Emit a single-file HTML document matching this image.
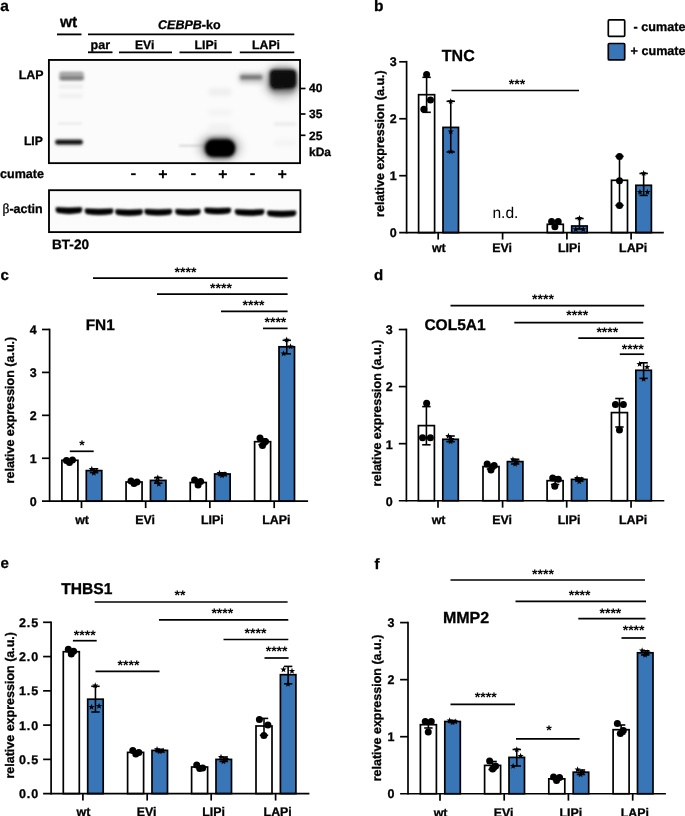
<!DOCTYPE html>
<html><head><meta charset="utf-8"><title>figure</title>
<style>html,body{margin:0;padding:0;background:#fff;}svg{display:block;font-family:"Liberation Sans",sans-serif;text-rendering:geometricPrecision;will-change:transform;transform:translateZ(0);}text{fill:#000;stroke:#000;stroke-width:0.3px;}text.n{stroke:none;}</style></head><body>
<svg width="685" height="816" viewBox="0 0 685 816">
<defs><filter id="b1" x="-30%" y="-100%" width="160%" height="300%"><feGaussianBlur stdDeviation="1.1"/></filter><filter id="b2" x="-30%" y="-100%" width="160%" height="300%"><feGaussianBlur stdDeviation="1.8"/></filter><filter id="b3" x="-30%" y="-100%" width="160%" height="300%"><feGaussianBlur stdDeviation="2.6"/></filter><filter id="b5" x="-50%" y="-50%" width="200%" height="200%"><feGaussianBlur stdDeviation="4.5"/></filter><filter id="b15" x="-30%" y="-100%" width="160%" height="300%"><feGaussianBlur stdDeviation="1.4"/></filter><filter id="b05" x="-30%" y="-100%" width="160%" height="300%"><feGaussianBlur stdDeviation="0.7"/></filter><clipPath id="cm"><rect x="48.9" y="59.95" width="251.1" height="103.05"/></clipPath><clipPath id="ca"><rect x="49" y="190.2" width="251.4" height="41.9"/></clipPath></defs>
<rect width="685" height="816" fill="#fff"/>
<text x="0.30" y="11.30" font-size="15.5" font-weight="bold" text-anchor="start" >a</text>
<text x="374.00" y="11.00" font-size="15.5" font-weight="bold" text-anchor="start" >b</text>
<text x="0.50" y="280.00" font-size="15" font-weight="bold" text-anchor="start" >c</text>
<text x="374.00" y="280.30" font-size="15" font-weight="bold" text-anchor="start" >d</text>
<text x="0.50" y="568.30" font-size="15" font-weight="bold" text-anchor="start" >e</text>
<text x="374.50" y="569.00" font-size="15" font-weight="bold" text-anchor="start" >f</text>
<text x="68.50" y="27.00" font-size="15.5" font-weight="bold" text-anchor="middle" >wt</text>
<line x1="57.00" y1="34.40" x2="81.50" y2="34.40" stroke="#000" stroke-width="1.85" />
<line x1="88.00" y1="34.40" x2="294.30" y2="34.40" stroke="#000" stroke-width="1.85" />
<text x="189.3" y="28.7" font-size="12.5" font-weight="bold" text-anchor="middle"><tspan font-style="italic">CEBPB</tspan>-ko</text>
<text x="100.30" y="48.80" font-size="12.5" font-weight="bold" text-anchor="middle" >par</text>
<line x1="88.00" y1="52.30" x2="112.50" y2="52.30" stroke="#000" stroke-width="1.85" />
<text x="144.70" y="48.70" font-size="12.2" font-weight="bold" text-anchor="middle" >EVi</text>
<line x1="119.00" y1="52.30" x2="172.00" y2="52.30" stroke="#000" stroke-width="1.85" />
<text x="205.80" y="48.60" font-size="12.3" font-weight="bold" text-anchor="middle" >LIPi</text>
<line x1="179.50" y1="52.30" x2="231.80" y2="52.30" stroke="#000" stroke-width="1.85" />
<text x="266.00" y="48.60" font-size="12.3" font-weight="bold" text-anchor="middle" >LAPi</text>
<line x1="239.80" y1="52.30" x2="294.30" y2="52.30" stroke="#000" stroke-width="1.85" />
<text x="43.60" y="78.80" font-size="12.4" font-weight="bold" text-anchor="end" >LAP</text>
<text x="42.90" y="145.40" font-size="12.2" font-weight="bold" text-anchor="end" >LIP</text>
<text x="0.00" y="178.00" font-size="12.55" font-weight="bold" text-anchor="start" >cumate</text>
<text x="2.5" y="213.0" font-size="12.5" font-weight="bold"><tspan font-weight="normal" font-family="Liberation Serif" font-size="13.5">β</tspan>-actin</text>
<text x="52.00" y="249.40" font-size="13.6" font-weight="bold" text-anchor="start" >BT-20</text>
<rect x="131.10" y="173.25" width="4.6" height="1.9" fill="#000"/>
<rect x="158.80" y="173.25" width="8.2" height="1.9" fill="#000"/>
<rect x="161.95" y="170.10" width="1.9" height="8.2" fill="#000"/>
<rect x="191.10" y="173.25" width="4.6" height="1.9" fill="#000"/>
<rect x="218.70" y="173.25" width="8.2" height="1.9" fill="#000"/>
<rect x="221.85" y="170.10" width="1.9" height="8.2" fill="#000"/>
<rect x="250.20" y="173.25" width="4.6" height="1.9" fill="#000"/>
<rect x="278.20" y="173.25" width="8.2" height="1.9" fill="#000"/>
<rect x="281.35" y="170.10" width="1.9" height="8.2" fill="#000"/>
<line x1="300.00" y1="88.50" x2="305.50" y2="88.50" stroke="#000" stroke-width="1.7" />
<line x1="300.00" y1="114.00" x2="305.50" y2="114.00" stroke="#000" stroke-width="1.7" />
<line x1="300.00" y1="135.30" x2="305.50" y2="135.30" stroke="#000" stroke-width="1.7" />
<text x="309.00" y="92.00" font-size="12" font-weight="bold" text-anchor="start" >40</text>
<text x="309.00" y="118.40" font-size="12" font-weight="bold" text-anchor="start" >35</text>
<text x="309.00" y="140.30" font-size="12" font-weight="bold" text-anchor="start" >25</text>
<text x="309.00" y="155.70" font-size="12" font-weight="bold" text-anchor="start" >kDa</text>
<rect x="48.9" y="59.95" width="251.1" height="103.05" fill="#fbfbfb"/>
<g clip-path="url(#cm)">
<rect x="59.5" y="72" width="24" height="8.5" rx="2" fill="#b0b0b0" filter="url(#b2)"/>
<rect x="60" y="76.4" width="23.5" height="3" rx="1" fill="#6e6e6e" filter="url(#b15)"/>
<rect x="60" y="72.8" width="23" height="2.2" rx="1" fill="#a0a0a0" filter="url(#b15)"/>
<rect x="59" y="84.5" width="24" height="4" fill="#ececec" filter="url(#b2)"/>
<rect x="59" y="93.5" width="24" height="5" fill="#f1f1f1" filter="url(#b2)"/>
<rect x="58" y="122.6" width="24" height="1.8" fill="#e6e6e6" filter="url(#b1)"/>
<rect x="55" y="139" width="28" height="6.5" rx="3" fill="#9a9a9a" filter="url(#b2)"/>
<rect x="55.5" y="140.3" width="27" height="3.6" rx="1.8" fill="#0c0c0c" filter="url(#b1)"/>
<rect x="179" y="144.8" width="26" height="1.8" fill="#d2d2d2" filter="url(#b1)"/>
<ellipse cx="219.7" cy="147.5" rx="22" ry="14" fill="#9a9a9a" opacity="0.55" filter="url(#b5)"/>
<rect x="203.5" y="137.5" width="32.5" height="21" rx="10" fill="#666" filter="url(#b3)"/>
<rect x="205.2" y="139.6" width="29.8" height="17.2" rx="8" fill="#050505" filter="url(#b2)"/>
<rect x="207" y="141.4" width="26.2" height="13.6" rx="6" fill="#050505" filter="url(#b1)"/>
<rect x="209" y="89" width="22" height="6" fill="#ebebeb" filter="url(#b3)"/>
<rect x="209" y="110" width="22" height="5" fill="#f2f2f2" filter="url(#b3)"/>
<rect x="209" y="124" width="22" height="8" fill="#f0f0f0" filter="url(#b3)"/>
<rect x="239" y="73" width="24.5" height="10" rx="3" fill="#c4c4c4" filter="url(#b3)"/>
<rect x="240" y="74.6" width="22.5" height="5.2" rx="2.4" fill="#9a9a9a" filter="url(#b2)"/>
<rect x="241" y="76.2" width="20.5" height="2.4" rx="1.2" fill="#707070" filter="url(#b1)"/>
<ellipse cx="282.5" cy="82" rx="19" ry="17" fill="#9a9a9a" opacity="0.55" filter="url(#b5)"/>
<rect x="268.5" y="68" width="28.5" height="25" rx="8" fill="#777" filter="url(#b3)"/>
<path d="M273,70 L292.5,70 Q296,70 296,74 L296,83 Q296,88 291,88.3 L276,89 Q270.2,89 270.2,83 L270.2,74 Q270.2,70 273,70 Z" fill="#080808" filter="url(#b2)"/>
<path d="M274,71.8 L291.5,71.8 Q294.3,71.8 294.3,75 L294.3,82.5 Q294.3,86.3 290.5,86.5 L276.5,87.2 Q272,87.2 272,82.5 L272,75 Q272,71.8 274,71.8 Z" fill="#080808" filter="url(#b1)"/>
<rect x="274" y="122.5" width="22" height="3" fill="#e8e8e8" filter="url(#b2)"/>
<rect x="274" y="140" width="22" height="6" fill="#f3f3f3" filter="url(#b3)"/>
</g>
<rect x="48.9" y="59.95" width="251.15" height="103.2" fill="none" stroke="#000" stroke-width="1.85"/>
<rect x="49" y="190.2" width="251.4" height="41.9" fill="#fbfbfb"/>
<g clip-path="url(#ca)">
<path d="M56.40,207.60 Q68.90,208.50 81.40,207.60 Q82.90,209.90 80.40,212.60 Q68.90,214.70 57.40,212.60 Q54.90,209.90 56.40,207.60 Z" fill="#6a6a6a" filter="url(#b2)"/>
<path d="M56.40,207.60 Q68.90,208.50 81.40,207.60 Q82.90,209.90 80.40,212.60 Q68.90,214.70 57.40,212.60 Q54.90,209.90 56.40,207.60 Z" fill="#050505" filter="url(#b1)"/>
<path d="M85.60,208.80 Q99.05,209.70 112.50,208.80 Q114.00,211.10 111.50,213.80 Q99.05,215.90 86.60,213.80 Q84.10,211.10 85.60,208.80 Z" fill="#6a6a6a" filter="url(#b2)"/>
<path d="M85.60,208.80 Q99.05,209.70 112.50,208.80 Q114.00,211.10 111.50,213.80 Q99.05,215.90 86.60,213.80 Q84.10,211.10 85.60,208.80 Z" fill="#050505" filter="url(#b1)"/>
<path d="M116.00,209.50 Q129.05,210.40 142.10,209.50 Q143.60,211.80 141.10,214.50 Q129.05,216.60 117.00,214.50 Q114.50,211.80 116.00,209.50 Z" fill="#6a6a6a" filter="url(#b2)"/>
<path d="M116.00,209.50 Q129.05,210.40 142.10,209.50 Q143.60,211.80 141.10,214.50 Q129.05,216.60 117.00,214.50 Q114.50,211.80 116.00,209.50 Z" fill="#050505" filter="url(#b1)"/>
<path d="M145.20,209.20 Q158.25,210.10 171.30,209.20 Q172.80,211.50 170.30,214.20 Q158.25,216.30 146.20,214.20 Q143.70,211.50 145.20,209.20 Z" fill="#6a6a6a" filter="url(#b2)"/>
<path d="M145.20,209.20 Q158.25,210.10 171.30,209.20 Q172.80,211.50 170.30,214.20 Q158.25,216.30 146.20,214.20 Q143.70,211.50 145.20,209.20 Z" fill="#050505" filter="url(#b1)"/>
<path d="M176.00,209.20 Q187.90,210.10 199.80,209.20 Q201.30,211.50 198.80,214.20 Q187.90,216.30 177.00,214.20 Q174.50,211.50 176.00,209.20 Z" fill="#6a6a6a" filter="url(#b2)"/>
<path d="M176.00,209.20 Q187.90,210.10 199.80,209.20 Q201.30,211.50 198.80,214.20 Q187.90,216.30 177.00,214.20 Q174.50,211.50 176.00,209.20 Z" fill="#050505" filter="url(#b1)"/>
<path d="M205.20,208.00 Q217.70,208.90 230.20,208.00 Q231.70,210.30 229.20,213.00 Q217.70,215.10 206.20,213.00 Q203.70,210.30 205.20,208.00 Z" fill="#6a6a6a" filter="url(#b2)"/>
<path d="M205.20,208.00 Q217.70,208.90 230.20,208.00 Q231.70,210.30 229.20,213.00 Q217.70,215.10 206.20,213.00 Q203.70,210.30 205.20,208.00 Z" fill="#050505" filter="url(#b1)"/>
<path d="M235.60,209.50 Q249.60,210.40 263.60,209.50 Q265.10,211.80 262.60,214.50 Q249.60,216.60 236.60,214.50 Q234.10,211.80 235.60,209.50 Z" fill="#6a6a6a" filter="url(#b2)"/>
<path d="M235.60,209.50 Q249.60,210.40 263.60,209.50 Q265.10,211.80 262.60,214.50 Q249.60,216.60 236.60,214.50 Q234.10,211.80 235.60,209.50 Z" fill="#050505" filter="url(#b1)"/>
<path d="M267.80,210.70 Q281.60,211.60 295.40,210.70 Q296.90,213.00 294.40,215.70 Q281.60,217.80 268.80,215.70 Q266.30,213.00 267.80,210.70 Z" fill="#6a6a6a" filter="url(#b2)"/>
<path d="M267.80,210.70 Q281.60,211.60 295.40,210.70 Q296.90,213.00 294.40,215.70 Q281.60,217.80 268.80,215.70 Q266.30,213.00 267.80,210.70 Z" fill="#050505" filter="url(#b1)"/>
</g>
<rect x="49" y="190.2" width="251.4" height="41.9" fill="none" stroke="#000" stroke-width="1.85"/>
<rect x="608.3" y="19.9" width="16.4" height="16.4" rx="1" fill="#fff" stroke="#000" stroke-width="1.7"/>
<rect x="608.3" y="43.5" width="16.4" height="16.4" rx="1" fill="#3876b8" stroke="#000" stroke-width="1.7"/>
<text x="633.60" y="30.80" font-size="12.6" font-weight="bold" text-anchor="start" >- cumate</text>
<text x="630.60" y="54.70" font-size="12.6" font-weight="bold" text-anchor="start" >+ cumate</text>
<rect x="418.60" y="94.70" width="16.00" height="137.95" fill="#fff" stroke="#000" stroke-width="1.7"/>
<rect x="443.00" y="127.40" width="15.50" height="105.25" fill="#3876b8" stroke="#000" stroke-width="1.7"/>
<rect x="547.30" y="224.30" width="16.00" height="8.35" fill="#fff" stroke="#000" stroke-width="1.7"/>
<rect x="571.70" y="226.00" width="15.50" height="6.65" fill="#3876b8" stroke="#000" stroke-width="1.7"/>
<rect x="611.50" y="180.30" width="16.00" height="52.35" fill="#fff" stroke="#000" stroke-width="1.7"/>
<rect x="635.90" y="185.30" width="15.50" height="47.35" fill="#3876b8" stroke="#000" stroke-width="1.7"/>
<line x1="406.60" y1="60.85" x2="406.60" y2="233.50" stroke="#000" stroke-width="1.7" />
<line x1="399.20" y1="232.65" x2="663.80" y2="232.65" stroke="#000" stroke-width="1.7" />
<text x="396.70" y="237.05" font-size="12.5" font-weight="bold" text-anchor="end" >0</text>
<line x1="399.20" y1="175.70" x2="406.60" y2="175.70" stroke="#000" stroke-width="1.7" />
<text x="396.70" y="180.10" font-size="12.5" font-weight="bold" text-anchor="end" >1</text>
<line x1="399.20" y1="118.75" x2="406.60" y2="118.75" stroke="#000" stroke-width="1.7" />
<text x="396.70" y="123.15" font-size="12.5" font-weight="bold" text-anchor="end" >2</text>
<line x1="399.20" y1="61.80" x2="406.60" y2="61.80" stroke="#000" stroke-width="1.7" />
<text x="396.70" y="66.20" font-size="12.5" font-weight="bold" text-anchor="end" >3</text>
<line x1="438.20" y1="232.65" x2="438.20" y2="239.55" stroke="#000" stroke-width="1.7" />
<text x="438.80" y="252.00" font-size="12.4" font-weight="bold" text-anchor="middle" >wt</text>
<line x1="502.60" y1="232.65" x2="502.60" y2="239.55" stroke="#000" stroke-width="1.7" />
<text x="502.00" y="252.00" font-size="12.4" font-weight="bold" text-anchor="middle" >EVi</text>
<line x1="566.90" y1="232.65" x2="566.90" y2="239.55" stroke="#000" stroke-width="1.7" />
<text x="569.30" y="252.00" font-size="12.4" font-weight="bold" text-anchor="middle" >LIPi</text>
<line x1="631.10" y1="232.65" x2="631.10" y2="239.55" stroke="#000" stroke-width="1.7" />
<text x="633.20" y="252.00" font-size="12.4" font-weight="bold" text-anchor="middle" >LAPi</text>
<text transform="translate(383.70,143.60) rotate(-90)" font-size="12.5" font-weight="bold" text-anchor="middle">relative expression (a.u.)</text>
<text x="441.80" y="61.00" font-size="16" font-weight="bold" text-anchor="start" >TNC</text>
<line x1="426.60" y1="77.30" x2="426.60" y2="112.30" stroke="#000" stroke-width="1.6" />
<line x1="422.40" y1="77.30" x2="430.80" y2="77.30" stroke="#000" stroke-width="1.6" />
<line x1="422.40" y1="112.30" x2="430.80" y2="112.30" stroke="#000" stroke-width="1.6" />
<circle cx="426.60" cy="74.40" r="3.5" fill="#000"/>
<circle cx="430.45" cy="100.00" r="3.5" fill="#000"/>
<circle cx="423.85" cy="109.30" r="3.5" fill="#000"/>
<line x1="450.75" y1="101.30" x2="450.75" y2="152.00" stroke="#000" stroke-width="1.6" />
<line x1="446.55" y1="101.30" x2="454.95" y2="101.30" stroke="#000" stroke-width="1.6" />
<line x1="446.55" y1="152.00" x2="454.95" y2="152.00" stroke="#000" stroke-width="1.6" />
<polygon points="450.70,98.00 451.51,100.18 453.84,100.28 452.02,101.73 452.64,103.97 450.70,102.69 448.76,103.97 449.38,101.73 447.56,100.28 449.89,100.18" fill="#000"/>
<polygon points="450.70,128.20 451.51,130.38 453.84,130.48 452.02,131.93 452.64,134.17 450.70,132.89 448.76,134.17 449.38,131.93 447.56,130.48 449.89,130.38" fill="#000"/>
<polygon points="450.70,148.20 451.51,150.38 453.84,150.48 452.02,151.93 452.64,154.17 450.70,152.89 448.76,154.17 449.38,151.93 447.56,150.48 449.89,150.38" fill="#000"/>
<circle cx="551.60" cy="221.50" r="3.5" fill="#000"/>
<circle cx="558.20" cy="221.50" r="3.5" fill="#000"/>
<circle cx="554.90" cy="226.80" r="3.5" fill="#000"/>
<line x1="579.45" y1="218.50" x2="579.45" y2="229.00" stroke="#000" stroke-width="1.6" />
<line x1="575.25" y1="218.50" x2="583.65" y2="218.50" stroke="#000" stroke-width="1.6" />
<line x1="575.25" y1="229.00" x2="583.65" y2="229.00" stroke="#000" stroke-width="1.6" />
<polygon points="579.45,214.90 580.26,217.08 582.59,217.18 580.77,218.63 581.39,220.87 579.45,219.59 577.51,220.87 578.13,218.63 576.31,217.18 578.64,217.08" fill="#000"/>
<polygon points="575.75,226.00 576.56,228.18 578.89,228.28 577.07,229.73 577.69,231.97 575.75,230.69 573.81,231.97 574.43,229.73 572.61,228.28 574.94,228.18" fill="#000"/>
<polygon points="583.25,226.00 584.06,228.18 586.39,228.28 584.57,229.73 585.19,231.97 583.25,230.69 581.31,231.97 581.93,229.73 580.11,228.28 582.44,228.18" fill="#000"/>
<line x1="619.50" y1="156.40" x2="619.50" y2="205.40" stroke="#000" stroke-width="1.6" />
<line x1="615.30" y1="156.40" x2="623.70" y2="156.40" stroke="#000" stroke-width="1.6" />
<line x1="615.30" y1="205.40" x2="623.70" y2="205.40" stroke="#000" stroke-width="1.6" />
<circle cx="619.50" cy="156.40" r="3.5" fill="#000"/>
<circle cx="619.50" cy="180.80" r="3.5" fill="#000"/>
<circle cx="619.50" cy="205.40" r="3.5" fill="#000"/>
<line x1="643.65" y1="173.50" x2="643.65" y2="195.40" stroke="#000" stroke-width="1.6" />
<line x1="639.45" y1="173.50" x2="647.85" y2="173.50" stroke="#000" stroke-width="1.6" />
<line x1="639.45" y1="195.40" x2="647.85" y2="195.40" stroke="#000" stroke-width="1.6" />
<polygon points="643.65,170.00 644.46,172.18 646.79,172.28 644.97,173.73 645.59,175.97 643.65,174.69 641.71,175.97 642.33,173.73 640.51,172.28 642.84,172.18" fill="#000"/>
<polygon points="639.95,188.70 640.76,190.88 643.09,190.98 641.27,192.43 641.89,194.67 639.95,193.39 638.01,194.67 638.63,192.43 636.81,190.98 639.14,190.88" fill="#000"/>
<polygon points="647.45,188.70 648.26,190.88 650.59,190.98 648.77,192.43 649.39,194.67 647.45,193.39 645.51,194.67 646.13,192.43 644.31,190.98 646.64,190.88" fill="#000"/>
<line x1="451.50" y1="90.50" x2="579.00" y2="90.50" stroke="#000" stroke-width="1.7" />
<text x="517.00" y="89.30" font-size="14" font-weight="bold" text-anchor="middle" class="n">***</text>
<text class="n" x="492.4" y="218.3" font-size="15.6" font-weight="normal">n.d.</text>
<rect x="61.90" y="460.30" width="16.00" height="40.90" fill="#fff" stroke="#000" stroke-width="1.7"/>
<rect x="86.30" y="470.60" width="15.50" height="30.60" fill="#3876b8" stroke="#000" stroke-width="1.7"/>
<rect x="126.06" y="482.00" width="16.00" height="19.20" fill="#fff" stroke="#000" stroke-width="1.7"/>
<rect x="150.46" y="480.40" width="15.50" height="20.80" fill="#3876b8" stroke="#000" stroke-width="1.7"/>
<rect x="190.24" y="482.50" width="16.00" height="18.70" fill="#fff" stroke="#000" stroke-width="1.7"/>
<rect x="214.64" y="474.00" width="15.50" height="27.20" fill="#3876b8" stroke="#000" stroke-width="1.7"/>
<rect x="254.60" y="441.70" width="16.00" height="59.50" fill="#fff" stroke="#000" stroke-width="1.7"/>
<rect x="279.00" y="346.80" width="15.50" height="154.40" fill="#3876b8" stroke="#000" stroke-width="1.7"/>
<line x1="49.60" y1="328.65" x2="49.60" y2="502.05" stroke="#000" stroke-width="1.7" />
<line x1="42.00" y1="501.20" x2="308.10" y2="501.20" stroke="#000" stroke-width="1.7" />
<text x="36.80" y="506.10" font-size="12.5" font-weight="bold" text-anchor="end" >0</text>
<line x1="42.00" y1="458.27" x2="49.60" y2="458.27" stroke="#000" stroke-width="1.7" />
<text x="36.80" y="463.17" font-size="12.5" font-weight="bold" text-anchor="end" >1</text>
<line x1="42.00" y1="415.34" x2="49.60" y2="415.34" stroke="#000" stroke-width="1.7" />
<text x="36.80" y="420.24" font-size="12.5" font-weight="bold" text-anchor="end" >2</text>
<line x1="42.00" y1="372.41" x2="49.60" y2="372.41" stroke="#000" stroke-width="1.7" />
<text x="36.80" y="377.31" font-size="12.5" font-weight="bold" text-anchor="end" >3</text>
<line x1="42.00" y1="329.48" x2="49.60" y2="329.48" stroke="#000" stroke-width="1.7" />
<text x="36.80" y="334.38" font-size="12.5" font-weight="bold" text-anchor="end" >4</text>
<line x1="81.50" y1="501.20" x2="81.50" y2="508.10" stroke="#000" stroke-width="1.7" />
<text x="82.10" y="524.00" font-size="12.4" font-weight="bold" text-anchor="middle" >wt</text>
<line x1="145.66" y1="501.20" x2="145.66" y2="508.10" stroke="#000" stroke-width="1.7" />
<text x="145.06" y="524.00" font-size="12.4" font-weight="bold" text-anchor="middle" >EVi</text>
<line x1="209.84" y1="501.20" x2="209.84" y2="508.10" stroke="#000" stroke-width="1.7" />
<text x="212.24" y="524.00" font-size="12.4" font-weight="bold" text-anchor="middle" >LIPi</text>
<line x1="274.20" y1="501.20" x2="274.20" y2="508.10" stroke="#000" stroke-width="1.7" />
<text x="276.30" y="524.00" font-size="12.4" font-weight="bold" text-anchor="middle" >LAPi</text>
<text transform="translate(13.80,410.10) rotate(-90)" font-size="12.5" font-weight="bold" text-anchor="middle">relative expression (a.u.)</text>
<text x="85.70" y="330.00" font-size="15.4" font-weight="bold" text-anchor="start" >FN1</text>
<circle cx="66.45" cy="460.50" r="3.5" fill="#000"/>
<circle cx="72.45" cy="460.00" r="3.5" fill="#000"/>
<circle cx="69.45" cy="462.50" r="3.5" fill="#000"/>
<line x1="94.05" y1="468.80" x2="94.05" y2="472.60" stroke="#000" stroke-width="1.6" />
<line x1="89.85" y1="468.80" x2="98.25" y2="468.80" stroke="#000" stroke-width="1.6" />
<line x1="89.85" y1="472.60" x2="98.25" y2="472.60" stroke="#000" stroke-width="1.6" />
<polygon points="91.80,465.70 92.61,467.88 94.94,467.98 93.12,469.43 93.74,471.67 91.80,470.39 89.86,471.67 90.48,469.43 88.66,467.98 90.99,467.88" fill="#000"/>
<polygon points="96.30,467.70 97.11,469.88 99.44,469.98 97.62,471.43 98.24,473.67 96.30,472.39 94.36,473.67 94.98,471.43 93.16,469.98 95.49,469.88" fill="#000"/>
<polygon points="93.80,469.70 94.61,471.88 96.94,471.98 95.12,473.43 95.74,475.67 93.80,474.39 91.86,475.67 92.48,473.43 90.66,471.98 92.99,471.88" fill="#000"/>
<circle cx="131.01" cy="481.00" r="3.5" fill="#000"/>
<circle cx="137.01" cy="482.00" r="3.5" fill="#000"/>
<circle cx="134.01" cy="483.50" r="3.5" fill="#000"/>
<line x1="158.21" y1="477.70" x2="158.21" y2="483.20" stroke="#000" stroke-width="1.6" />
<line x1="154.01" y1="477.70" x2="162.41" y2="477.70" stroke="#000" stroke-width="1.6" />
<line x1="154.01" y1="483.20" x2="162.41" y2="483.20" stroke="#000" stroke-width="1.6" />
<polygon points="157.81,474.40 158.62,476.58 160.95,476.68 159.13,478.13 159.75,480.37 157.81,479.09 155.87,480.37 156.49,478.13 154.67,476.68 157.00,476.58" fill="#000"/>
<polygon points="156.31,477.70 157.12,479.88 159.45,479.98 157.63,481.43 158.25,483.67 156.31,482.39 154.37,483.67 154.99,481.43 153.17,479.98 155.50,479.88" fill="#000"/>
<polygon points="158.81,480.70 159.62,482.88 161.95,482.98 160.13,484.43 160.75,486.67 158.81,485.39 156.87,486.67 157.49,484.43 155.67,482.98 158.00,482.88" fill="#000"/>
<circle cx="194.59" cy="480.00" r="3.5" fill="#000"/>
<circle cx="200.59" cy="481.50" r="3.5" fill="#000"/>
<circle cx="198.09" cy="485.00" r="3.5" fill="#000"/>
<line x1="222.39" y1="472.80" x2="222.39" y2="475.50" stroke="#000" stroke-width="1.6" />
<line x1="218.19" y1="472.80" x2="226.59" y2="472.80" stroke="#000" stroke-width="1.6" />
<line x1="218.19" y1="475.50" x2="226.59" y2="475.50" stroke="#000" stroke-width="1.6" />
<polygon points="219.49,469.70 220.30,471.88 222.63,471.98 220.81,473.43 221.43,475.67 219.49,474.39 217.55,475.67 218.17,473.43 216.35,471.98 218.68,471.88" fill="#000"/>
<polygon points="224.99,471.00 225.80,473.18 228.13,473.28 226.31,474.73 226.93,476.97 224.99,475.69 223.05,476.97 223.67,474.73 221.85,473.28 224.18,473.18" fill="#000"/>
<polygon points="221.99,472.20 222.80,474.38 225.13,474.48 223.31,475.93 223.93,478.17 221.99,476.89 220.05,478.17 220.67,475.93 218.85,474.48 221.18,474.38" fill="#000"/>
<line x1="262.60" y1="438.80" x2="262.60" y2="444.70" stroke="#000" stroke-width="1.6" />
<line x1="258.40" y1="438.80" x2="266.80" y2="438.80" stroke="#000" stroke-width="1.6" />
<line x1="258.40" y1="444.70" x2="266.80" y2="444.70" stroke="#000" stroke-width="1.6" />
<circle cx="260.00" cy="438.00" r="3.5" fill="#000"/>
<circle cx="265.50" cy="441.50" r="3.5" fill="#000"/>
<circle cx="262.50" cy="445.50" r="3.5" fill="#000"/>
<line x1="286.75" y1="340.30" x2="286.75" y2="353.80" stroke="#000" stroke-width="1.6" />
<line x1="282.55" y1="340.30" x2="290.95" y2="340.30" stroke="#000" stroke-width="1.6" />
<line x1="282.55" y1="353.80" x2="290.95" y2="353.80" stroke="#000" stroke-width="1.6" />
<polygon points="286.70,336.50 287.51,338.68 289.84,338.78 288.02,340.23 288.64,342.47 286.70,341.19 284.76,342.47 285.38,340.23 283.56,338.78 285.89,338.68" fill="#000"/>
<polygon points="290.60,343.20 291.41,345.38 293.74,345.48 291.92,346.93 292.54,349.17 290.60,347.89 288.66,349.17 289.28,346.93 287.46,345.48 289.79,345.38" fill="#000"/>
<polygon points="283.60,350.20 284.41,352.38 286.74,352.48 284.92,353.93 285.54,356.17 283.60,354.89 281.66,356.17 282.28,353.93 280.46,352.48 282.79,352.38" fill="#000"/>
<line x1="93.00" y1="278.10" x2="287.60" y2="278.10" stroke="#000" stroke-width="1.7" />
<text x="185.50" y="276.90" font-size="14" font-weight="bold" text-anchor="middle" class="n">****</text>
<line x1="157.00" y1="294.20" x2="287.60" y2="294.20" stroke="#000" stroke-width="1.7" />
<text x="221.00" y="293.00" font-size="14" font-weight="bold" text-anchor="middle" class="n">****</text>
<line x1="221.00" y1="311.30" x2="287.60" y2="311.30" stroke="#000" stroke-width="1.7" />
<text x="253.50" y="310.10" font-size="14" font-weight="bold" text-anchor="middle" class="n">****</text>
<line x1="263.00" y1="328.40" x2="287.60" y2="328.40" stroke="#000" stroke-width="1.7" />
<text x="275.40" y="327.20" font-size="14" font-weight="bold" text-anchor="middle" class="n">****</text>
<line x1="69.80" y1="451.30" x2="93.70" y2="451.30" stroke="#000" stroke-width="1.7" />
<text x="82.00" y="450.10" font-size="14" font-weight="bold" text-anchor="middle" class="n">*</text>
<rect x="418.40" y="425.60" width="16.00" height="75.15" fill="#fff" stroke="#000" stroke-width="1.7"/>
<rect x="442.80" y="439.30" width="15.50" height="61.45" fill="#3876b8" stroke="#000" stroke-width="1.7"/>
<rect x="483.00" y="466.60" width="16.00" height="34.15" fill="#fff" stroke="#000" stroke-width="1.7"/>
<rect x="507.40" y="461.60" width="15.50" height="39.15" fill="#3876b8" stroke="#000" stroke-width="1.7"/>
<rect x="547.10" y="480.70" width="16.00" height="20.05" fill="#fff" stroke="#000" stroke-width="1.7"/>
<rect x="571.50" y="479.40" width="15.50" height="21.35" fill="#3876b8" stroke="#000" stroke-width="1.7"/>
<rect x="611.45" y="412.60" width="16.00" height="88.15" fill="#fff" stroke="#000" stroke-width="1.7"/>
<rect x="635.85" y="370.30" width="15.50" height="130.45" fill="#3876b8" stroke="#000" stroke-width="1.7"/>
<line x1="406.40" y1="328.65" x2="406.40" y2="501.60" stroke="#000" stroke-width="1.7" />
<line x1="398.80" y1="500.75" x2="664.30" y2="500.75" stroke="#000" stroke-width="1.7" />
<text x="392.80" y="505.65" font-size="12.5" font-weight="bold" text-anchor="end" >0</text>
<line x1="398.80" y1="443.67" x2="406.40" y2="443.67" stroke="#000" stroke-width="1.7" />
<text x="392.80" y="448.57" font-size="12.5" font-weight="bold" text-anchor="end" >1</text>
<line x1="398.80" y1="386.59" x2="406.40" y2="386.59" stroke="#000" stroke-width="1.7" />
<text x="392.80" y="391.49" font-size="12.5" font-weight="bold" text-anchor="end" >2</text>
<line x1="398.80" y1="329.51" x2="406.40" y2="329.51" stroke="#000" stroke-width="1.7" />
<text x="392.80" y="334.41" font-size="12.5" font-weight="bold" text-anchor="end" >3</text>
<line x1="438.00" y1="500.75" x2="438.00" y2="507.65" stroke="#000" stroke-width="1.7" />
<text x="438.60" y="523.50" font-size="12.4" font-weight="bold" text-anchor="middle" >wt</text>
<line x1="502.60" y1="500.75" x2="502.60" y2="507.65" stroke="#000" stroke-width="1.7" />
<text x="502.00" y="523.50" font-size="12.4" font-weight="bold" text-anchor="middle" >EVi</text>
<line x1="566.70" y1="500.75" x2="566.70" y2="507.65" stroke="#000" stroke-width="1.7" />
<text x="569.10" y="523.50" font-size="12.4" font-weight="bold" text-anchor="middle" >LIPi</text>
<line x1="631.05" y1="500.75" x2="631.05" y2="507.65" stroke="#000" stroke-width="1.7" />
<text x="633.15" y="523.50" font-size="12.4" font-weight="bold" text-anchor="middle" >LAPi</text>
<text transform="translate(381.20,413.10) rotate(-90)" font-size="12.5" font-weight="bold" text-anchor="middle">relative expression (a.u.)</text>
<text x="424.40" y="330.00" font-size="15.55" font-weight="bold" text-anchor="start" >COL5A1</text>
<line x1="426.40" y1="406.60" x2="426.40" y2="444.80" stroke="#000" stroke-width="1.6" />
<line x1="422.20" y1="406.60" x2="430.60" y2="406.60" stroke="#000" stroke-width="1.6" />
<line x1="422.20" y1="444.80" x2="430.60" y2="444.80" stroke="#000" stroke-width="1.6" />
<circle cx="426.65" cy="403.30" r="3.5" fill="#000"/>
<circle cx="422.55" cy="437.70" r="3.5" fill="#000"/>
<circle cx="430.35" cy="437.70" r="3.5" fill="#000"/>
<line x1="450.55" y1="436.00" x2="450.55" y2="441.70" stroke="#000" stroke-width="1.6" />
<line x1="446.35" y1="436.00" x2="454.75" y2="436.00" stroke="#000" stroke-width="1.6" />
<line x1="446.35" y1="441.70" x2="454.75" y2="441.70" stroke="#000" stroke-width="1.6" />
<polygon points="448.45,432.70 449.26,434.88 451.59,434.98 449.77,436.43 450.39,438.67 448.45,437.39 446.51,438.67 447.13,436.43 445.31,434.98 447.64,434.88" fill="#000"/>
<polygon points="451.45,435.70 452.26,437.88 454.59,437.98 452.77,439.43 453.39,441.67 451.45,440.39 449.51,441.67 450.13,439.43 448.31,437.98 450.64,437.88" fill="#000"/>
<polygon points="450.55,438.20 451.36,440.38 453.69,440.48 451.87,441.93 452.49,444.17 450.55,442.89 448.61,444.17 449.23,441.93 447.41,440.48 449.74,440.38" fill="#000"/>
<line x1="491.00" y1="464.50" x2="491.00" y2="469.00" stroke="#000" stroke-width="1.6" />
<line x1="486.80" y1="464.50" x2="495.20" y2="464.50" stroke="#000" stroke-width="1.6" />
<line x1="486.80" y1="469.00" x2="495.20" y2="469.00" stroke="#000" stroke-width="1.6" />
<circle cx="487.15" cy="464.00" r="3.5" fill="#000"/>
<circle cx="494.15" cy="465.50" r="3.5" fill="#000"/>
<circle cx="490.95" cy="470.00" r="3.5" fill="#000"/>
<line x1="515.15" y1="459.30" x2="515.15" y2="464.00" stroke="#000" stroke-width="1.6" />
<line x1="510.95" y1="459.30" x2="519.35" y2="459.30" stroke="#000" stroke-width="1.6" />
<line x1="510.95" y1="464.00" x2="519.35" y2="464.00" stroke="#000" stroke-width="1.6" />
<polygon points="512.95,456.20 513.76,458.38 516.09,458.48 514.27,459.93 514.89,462.17 512.95,460.89 511.01,462.17 511.63,459.93 509.81,458.48 512.14,458.38" fill="#000"/>
<polygon points="516.95,458.20 517.76,460.38 520.09,460.48 518.27,461.93 518.89,464.17 516.95,462.89 515.01,464.17 515.63,461.93 513.81,460.48 516.14,460.38" fill="#000"/>
<polygon points="515.15,460.70 515.96,462.88 518.29,462.98 516.47,464.43 517.09,466.67 515.15,465.39 513.21,466.67 513.83,464.43 512.01,462.98 514.34,462.88" fill="#000"/>
<line x1="555.10" y1="477.00" x2="555.10" y2="484.50" stroke="#000" stroke-width="1.6" />
<line x1="550.90" y1="477.00" x2="559.30" y2="477.00" stroke="#000" stroke-width="1.6" />
<line x1="550.90" y1="484.50" x2="559.30" y2="484.50" stroke="#000" stroke-width="1.6" />
<circle cx="552.70" cy="477.90" r="3.5" fill="#000"/>
<circle cx="558.30" cy="479.20" r="3.5" fill="#000"/>
<circle cx="554.80" cy="486.30" r="3.5" fill="#000"/>
<line x1="579.25" y1="478.00" x2="579.25" y2="481.00" stroke="#000" stroke-width="1.6" />
<line x1="575.05" y1="478.00" x2="583.45" y2="478.00" stroke="#000" stroke-width="1.6" />
<line x1="575.05" y1="481.00" x2="583.45" y2="481.00" stroke="#000" stroke-width="1.6" />
<polygon points="577.05,474.70 577.86,476.88 580.19,476.98 578.37,478.43 578.99,480.67 577.05,479.39 575.11,480.67 575.73,478.43 573.91,476.98 576.24,476.88" fill="#000"/>
<polygon points="581.55,476.20 582.36,478.38 584.69,478.48 582.87,479.93 583.49,482.17 581.55,480.89 579.61,482.17 580.23,479.93 578.41,478.48 580.74,478.38" fill="#000"/>
<polygon points="579.25,478.20 580.06,480.38 582.39,480.48 580.57,481.93 581.19,484.17 579.25,482.89 577.31,484.17 577.93,481.93 576.11,480.48 578.44,480.38" fill="#000"/>
<line x1="619.45" y1="398.50" x2="619.45" y2="427.00" stroke="#000" stroke-width="1.6" />
<line x1="615.25" y1="398.50" x2="623.65" y2="398.50" stroke="#000" stroke-width="1.6" />
<line x1="615.25" y1="427.00" x2="623.65" y2="427.00" stroke="#000" stroke-width="1.6" />
<circle cx="615.45" cy="404.60" r="3.5" fill="#000"/>
<circle cx="623.35" cy="404.60" r="3.5" fill="#000"/>
<circle cx="619.45" cy="429.90" r="3.5" fill="#000"/>
<line x1="643.60" y1="362.80" x2="643.60" y2="378.40" stroke="#000" stroke-width="1.6" />
<line x1="639.40" y1="362.80" x2="647.80" y2="362.80" stroke="#000" stroke-width="1.6" />
<line x1="639.40" y1="378.40" x2="647.80" y2="378.40" stroke="#000" stroke-width="1.6" />
<polygon points="639.60,360.70 640.41,362.88 642.74,362.98 640.92,364.43 641.54,366.67 639.60,365.39 637.66,366.67 638.28,364.43 636.46,362.98 638.79,362.88" fill="#000"/>
<polygon points="647.10,363.70 647.91,365.88 650.24,365.98 648.42,367.43 649.04,369.67 647.10,368.39 645.16,369.67 645.78,367.43 643.96,365.98 646.29,365.88" fill="#000"/>
<polygon points="643.60,375.70 644.41,377.88 646.74,377.98 644.92,379.43 645.54,381.67 643.60,380.39 641.66,381.67 642.28,379.43 640.46,377.98 642.79,377.88" fill="#000"/>
<line x1="450.50" y1="305.70" x2="644.20" y2="305.70" stroke="#000" stroke-width="1.7" />
<text x="543.00" y="303.80" font-size="14" font-weight="bold" text-anchor="middle" class="n">****</text>
<line x1="514.30" y1="322.60" x2="643.30" y2="322.60" stroke="#000" stroke-width="1.7" />
<text x="577.20" y="320.00" font-size="14" font-weight="bold" text-anchor="middle" class="n">****</text>
<line x1="578.30" y1="338.20" x2="644.20" y2="338.20" stroke="#000" stroke-width="1.7" />
<text x="607.30" y="337.00" font-size="14" font-weight="bold" text-anchor="middle" class="n">****</text>
<line x1="619.80" y1="354.20" x2="644.20" y2="354.20" stroke="#000" stroke-width="1.7" />
<text x="632.70" y="353.80" font-size="14" font-weight="bold" text-anchor="middle" class="n">****</text>
<rect x="63.30" y="651.70" width="16.00" height="141.95" fill="#fff" stroke="#000" stroke-width="1.7"/>
<rect x="87.70" y="699.20" width="15.50" height="94.45" fill="#3876b8" stroke="#000" stroke-width="1.7"/>
<rect x="127.60" y="752.40" width="16.00" height="41.25" fill="#fff" stroke="#000" stroke-width="1.7"/>
<rect x="152.00" y="750.40" width="15.50" height="43.25" fill="#3876b8" stroke="#000" stroke-width="1.7"/>
<rect x="191.60" y="767.00" width="16.00" height="26.65" fill="#fff" stroke="#000" stroke-width="1.7"/>
<rect x="216.00" y="759.40" width="15.50" height="34.25" fill="#3876b8" stroke="#000" stroke-width="1.7"/>
<rect x="256.00" y="726.00" width="16.00" height="67.65" fill="#fff" stroke="#000" stroke-width="1.7"/>
<rect x="280.40" y="674.70" width="15.50" height="118.95" fill="#3876b8" stroke="#000" stroke-width="1.7"/>
<line x1="51.10" y1="621.45" x2="51.10" y2="794.50" stroke="#000" stroke-width="1.7" />
<line x1="43.10" y1="793.65" x2="309.40" y2="793.65" stroke="#000" stroke-width="1.7" />
<text x="39.10" y="798.15" font-size="12.5" font-weight="bold" text-anchor="end" letter-spacing="0.9">0.0</text>
<line x1="43.10" y1="759.38" x2="51.10" y2="759.38" stroke="#000" stroke-width="1.7" />
<text x="39.10" y="763.88" font-size="12.5" font-weight="bold" text-anchor="end" letter-spacing="0.9">0.5</text>
<line x1="43.10" y1="725.11" x2="51.10" y2="725.11" stroke="#000" stroke-width="1.7" />
<text x="39.10" y="729.61" font-size="12.5" font-weight="bold" text-anchor="end" letter-spacing="0.9">1.0</text>
<line x1="43.10" y1="690.84" x2="51.10" y2="690.84" stroke="#000" stroke-width="1.7" />
<text x="39.10" y="695.34" font-size="12.5" font-weight="bold" text-anchor="end" letter-spacing="0.9">1.5</text>
<line x1="43.10" y1="656.57" x2="51.10" y2="656.57" stroke="#000" stroke-width="1.7" />
<text x="39.10" y="661.07" font-size="12.5" font-weight="bold" text-anchor="end" letter-spacing="0.9">2.0</text>
<line x1="43.10" y1="622.30" x2="51.10" y2="622.30" stroke="#000" stroke-width="1.7" />
<text x="39.10" y="626.80" font-size="12.5" font-weight="bold" text-anchor="end" letter-spacing="0.9">2.5</text>
<line x1="82.90" y1="793.65" x2="82.90" y2="800.55" stroke="#000" stroke-width="1.7" />
<text x="83.50" y="816.30" font-size="12.4" font-weight="bold" text-anchor="middle" >wt</text>
<line x1="147.20" y1="793.65" x2="147.20" y2="800.55" stroke="#000" stroke-width="1.7" />
<text x="146.60" y="816.30" font-size="12.4" font-weight="bold" text-anchor="middle" >EVi</text>
<line x1="211.20" y1="793.65" x2="211.20" y2="800.55" stroke="#000" stroke-width="1.7" />
<text x="213.60" y="816.30" font-size="12.4" font-weight="bold" text-anchor="middle" >LIPi</text>
<line x1="275.60" y1="793.65" x2="275.60" y2="800.55" stroke="#000" stroke-width="1.7" />
<text x="277.70" y="816.30" font-size="12.4" font-weight="bold" text-anchor="middle" >LAPi</text>
<text transform="translate(13.80,705.30) rotate(-90)" font-size="12.5" font-weight="bold" text-anchor="middle">relative expression (a.u.)</text>
<text x="61.30" y="593.50" font-size="15.6" font-weight="bold" text-anchor="start" >THBS1</text>
<circle cx="68.30" cy="649.30" r="3.5" fill="#000"/>
<circle cx="73.60" cy="651.30" r="3.5" fill="#000"/>
<circle cx="71.30" cy="653.90" r="3.5" fill="#000"/>
<line x1="95.45" y1="686.30" x2="95.45" y2="712.00" stroke="#000" stroke-width="1.6" />
<line x1="91.25" y1="686.30" x2="99.65" y2="686.30" stroke="#000" stroke-width="1.6" />
<line x1="91.25" y1="712.00" x2="99.65" y2="712.00" stroke="#000" stroke-width="1.6" />
<polygon points="95.25,682.30 96.06,684.48 98.39,684.58 96.57,686.03 97.19,688.27 95.25,686.99 93.31,688.27 93.93,686.03 92.11,684.58 94.44,684.48" fill="#000"/>
<polygon points="91.55,703.70 92.36,705.88 94.69,705.98 92.87,707.43 93.49,709.67 91.55,708.39 89.61,709.67 90.23,707.43 88.41,705.98 90.74,705.88" fill="#000"/>
<polygon points="99.05,702.70 99.86,704.88 102.19,704.98 100.37,706.43 100.99,708.67 99.05,707.39 97.11,708.67 97.73,706.43 95.91,704.98 98.24,704.88" fill="#000"/>
<circle cx="132.80" cy="750.50" r="3.5" fill="#000"/>
<circle cx="138.80" cy="752.50" r="3.5" fill="#000"/>
<circle cx="135.80" cy="754.00" r="3.5" fill="#000"/>
<line x1="159.75" y1="749.30" x2="159.75" y2="751.80" stroke="#000" stroke-width="1.6" />
<line x1="155.55" y1="749.30" x2="163.95" y2="749.30" stroke="#000" stroke-width="1.6" />
<line x1="155.55" y1="751.80" x2="163.95" y2="751.80" stroke="#000" stroke-width="1.6" />
<polygon points="157.05,746.00 157.86,748.18 160.19,748.28 158.37,749.73 158.99,751.97 157.05,750.69 155.11,751.97 155.73,749.73 153.91,748.28 156.24,748.18" fill="#000"/>
<polygon points="163.05,747.50 163.86,749.68 166.19,749.78 164.37,751.23 164.99,753.47 163.05,752.19 161.11,753.47 161.73,751.23 159.91,749.78 162.24,749.68" fill="#000"/>
<polygon points="159.75,748.20 160.56,750.38 162.89,750.48 161.07,751.93 161.69,754.17 159.75,752.89 157.81,754.17 158.43,751.93 156.61,750.48 158.94,750.38" fill="#000"/>
<circle cx="196.70" cy="765.00" r="3.5" fill="#000"/>
<circle cx="202.70" cy="768.00" r="3.5" fill="#000"/>
<circle cx="199.70" cy="768.50" r="3.5" fill="#000"/>
<line x1="223.75" y1="757.00" x2="223.75" y2="761.50" stroke="#000" stroke-width="1.6" />
<line x1="219.55" y1="757.00" x2="227.95" y2="757.00" stroke="#000" stroke-width="1.6" />
<line x1="219.55" y1="761.50" x2="227.95" y2="761.50" stroke="#000" stroke-width="1.6" />
<polygon points="221.00,753.70 221.81,755.88 224.14,755.98 222.32,757.43 222.94,759.67 221.00,758.39 219.06,759.67 219.68,757.43 217.86,755.98 220.19,755.88" fill="#000"/>
<polygon points="226.00,755.70 226.81,757.88 229.14,757.98 227.32,759.43 227.94,761.67 226.00,760.39 224.06,761.67 224.68,759.43 222.86,757.98 225.19,757.88" fill="#000"/>
<polygon points="223.50,758.20 224.31,760.38 226.64,760.48 224.82,761.93 225.44,764.17 223.50,762.89 221.56,764.17 222.18,761.93 220.36,760.48 222.69,760.38" fill="#000"/>
<line x1="264.00" y1="718.40" x2="264.00" y2="735.30" stroke="#000" stroke-width="1.6" />
<line x1="259.80" y1="718.40" x2="268.20" y2="718.40" stroke="#000" stroke-width="1.6" />
<line x1="259.80" y1="735.30" x2="268.20" y2="735.30" stroke="#000" stroke-width="1.6" />
<circle cx="259.40" cy="719.50" r="3.5" fill="#000"/>
<circle cx="267.90" cy="725.00" r="3.5" fill="#000"/>
<circle cx="263.90" cy="735.50" r="3.5" fill="#000"/>
<line x1="288.15" y1="666.40" x2="288.15" y2="683.80" stroke="#000" stroke-width="1.6" />
<line x1="283.95" y1="666.40" x2="292.35" y2="666.40" stroke="#000" stroke-width="1.6" />
<line x1="283.95" y1="683.80" x2="292.35" y2="683.80" stroke="#000" stroke-width="1.6" />
<polygon points="283.50,666.20 284.31,668.38 286.64,668.48 284.82,669.93 285.44,672.17 283.50,670.89 281.56,672.17 282.18,669.93 280.36,668.48 282.69,668.38" fill="#000"/>
<polygon points="292.00,667.70 292.81,669.88 295.14,669.98 293.32,671.43 293.94,673.67 292.00,672.39 290.06,673.67 290.68,671.43 288.86,669.98 291.19,669.88" fill="#000"/>
<polygon points="288.00,680.70 288.81,682.88 291.14,682.98 289.32,684.43 289.94,686.67 288.00,685.39 286.06,686.67 286.68,684.43 284.86,682.98 287.19,682.88" fill="#000"/>
<line x1="94.70" y1="602.00" x2="287.60" y2="602.00" stroke="#000" stroke-width="1.7" />
<text x="180.00" y="600.30" font-size="14" font-weight="bold" text-anchor="middle" class="n">**</text>
<line x1="159.00" y1="619.90" x2="288.30" y2="619.90" stroke="#000" stroke-width="1.7" />
<text x="222.30" y="618.20" font-size="14" font-weight="bold" text-anchor="middle" class="n">****</text>
<line x1="223.50" y1="639.50" x2="288.30" y2="639.50" stroke="#000" stroke-width="1.7" />
<text x="255.50" y="637.80" font-size="14" font-weight="bold" text-anchor="middle" class="n">****</text>
<line x1="264.50" y1="658.00" x2="288.60" y2="658.00" stroke="#000" stroke-width="1.7" />
<text x="276.60" y="656.30" font-size="14" font-weight="bold" text-anchor="middle" class="n">****</text>
<line x1="72.90" y1="640.70" x2="96.70" y2="640.70" stroke="#000" stroke-width="1.7" />
<text x="84.70" y="639.70" font-size="14" font-weight="bold" text-anchor="middle" class="n">****</text>
<line x1="95.50" y1="671.40" x2="159.50" y2="671.40" stroke="#000" stroke-width="1.7" />
<text x="128.50" y="669.70" font-size="14" font-weight="bold" text-anchor="middle" class="n">****</text>
<rect x="420.40" y="724.70" width="16.00" height="69.05" fill="#fff" stroke="#000" stroke-width="1.7"/>
<rect x="444.80" y="721.50" width="15.50" height="72.25" fill="#3876b8" stroke="#000" stroke-width="1.7"/>
<rect x="484.60" y="765.40" width="16.00" height="28.35" fill="#fff" stroke="#000" stroke-width="1.7"/>
<rect x="509.00" y="757.40" width="15.50" height="36.35" fill="#3876b8" stroke="#000" stroke-width="1.7"/>
<rect x="548.80" y="778.85" width="16.00" height="14.90" fill="#fff" stroke="#000" stroke-width="1.7"/>
<rect x="573.20" y="772.20" width="15.50" height="21.55" fill="#3876b8" stroke="#000" stroke-width="1.7"/>
<rect x="613.10" y="729.70" width="16.00" height="64.05" fill="#fff" stroke="#000" stroke-width="1.7"/>
<rect x="637.50" y="652.80" width="15.50" height="140.95" fill="#3876b8" stroke="#000" stroke-width="1.7"/>
<line x1="408.00" y1="621.75" x2="408.00" y2="794.60" stroke="#000" stroke-width="1.7" />
<line x1="400.10" y1="793.75" x2="665.90" y2="793.75" stroke="#000" stroke-width="1.7" />
<text x="394.50" y="797.65" font-size="12.5" font-weight="bold" text-anchor="end" >0</text>
<line x1="400.10" y1="736.70" x2="408.00" y2="736.70" stroke="#000" stroke-width="1.7" />
<text x="394.50" y="740.60" font-size="12.5" font-weight="bold" text-anchor="end" >1</text>
<line x1="400.10" y1="679.65" x2="408.00" y2="679.65" stroke="#000" stroke-width="1.7" />
<text x="394.50" y="683.55" font-size="12.5" font-weight="bold" text-anchor="end" >2</text>
<line x1="400.10" y1="622.60" x2="408.00" y2="622.60" stroke="#000" stroke-width="1.7" />
<text x="394.50" y="626.50" font-size="12.5" font-weight="bold" text-anchor="end" >3</text>
<line x1="440.00" y1="793.75" x2="440.00" y2="800.65" stroke="#000" stroke-width="1.7" />
<text x="440.60" y="816.80" font-size="12.4" font-weight="bold" text-anchor="middle" >wt</text>
<line x1="504.20" y1="793.75" x2="504.20" y2="800.65" stroke="#000" stroke-width="1.7" />
<text x="503.60" y="816.80" font-size="12.4" font-weight="bold" text-anchor="middle" >EVi</text>
<line x1="568.40" y1="793.75" x2="568.40" y2="800.65" stroke="#000" stroke-width="1.7" />
<text x="570.80" y="816.80" font-size="12.4" font-weight="bold" text-anchor="middle" >LIPi</text>
<line x1="632.70" y1="793.75" x2="632.70" y2="800.65" stroke="#000" stroke-width="1.7" />
<text x="634.80" y="816.80" font-size="12.4" font-weight="bold" text-anchor="middle" >LAPi</text>
<text transform="translate(381.40,708.00) rotate(-90)" font-size="12.5" font-weight="bold" text-anchor="middle">relative expression (a.u.)</text>
<text x="442.90" y="622.90" font-size="16" font-weight="bold" text-anchor="start" >MMP2</text>
<line x1="428.40" y1="721.50" x2="428.40" y2="728.00" stroke="#000" stroke-width="1.6" />
<line x1="424.20" y1="721.50" x2="432.60" y2="721.50" stroke="#000" stroke-width="1.6" />
<line x1="424.20" y1="728.00" x2="432.60" y2="728.00" stroke="#000" stroke-width="1.6" />
<circle cx="425.25" cy="721.50" r="3.5" fill="#000"/>
<circle cx="431.25" cy="721.50" r="3.5" fill="#000"/>
<circle cx="428.25" cy="732.00" r="3.5" fill="#000"/>
<line x1="452.55" y1="720.50" x2="452.55" y2="722.50" stroke="#000" stroke-width="1.6" />
<line x1="448.35" y1="720.50" x2="456.75" y2="720.50" stroke="#000" stroke-width="1.6" />
<line x1="448.35" y1="722.50" x2="456.75" y2="722.50" stroke="#000" stroke-width="1.6" />
<polygon points="449.65,717.20 450.46,719.38 452.79,719.48 450.97,720.93 451.59,723.17 449.65,721.89 447.71,723.17 448.33,720.93 446.51,719.48 448.84,719.38" fill="#000"/>
<polygon points="455.15,718.20 455.96,720.38 458.29,720.48 456.47,721.93 457.09,724.17 455.15,722.89 453.21,724.17 453.83,721.93 452.01,720.48 454.34,720.38" fill="#000"/>
<polygon points="452.55,719.20 453.36,721.38 455.69,721.48 453.87,722.93 454.49,725.17 452.55,723.89 450.61,725.17 451.23,722.93 449.41,721.48 451.74,721.38" fill="#000"/>
<line x1="492.60" y1="761.50" x2="492.60" y2="769.50" stroke="#000" stroke-width="1.6" />
<line x1="488.40" y1="761.50" x2="496.80" y2="761.50" stroke="#000" stroke-width="1.6" />
<line x1="488.40" y1="769.50" x2="496.80" y2="769.50" stroke="#000" stroke-width="1.6" />
<circle cx="489.60" cy="761.00" r="3.5" fill="#000"/>
<circle cx="495.60" cy="766.00" r="3.5" fill="#000"/>
<circle cx="492.60" cy="769.00" r="3.5" fill="#000"/>
<line x1="516.75" y1="749.50" x2="516.75" y2="766.00" stroke="#000" stroke-width="1.6" />
<line x1="512.55" y1="749.50" x2="520.95" y2="749.50" stroke="#000" stroke-width="1.6" />
<line x1="512.55" y1="766.00" x2="520.95" y2="766.00" stroke="#000" stroke-width="1.6" />
<polygon points="516.80,746.20 517.61,748.38 519.94,748.48 518.12,749.93 518.74,752.17 516.80,750.89 514.86,752.17 515.48,749.93 513.66,748.48 515.99,748.38" fill="#000"/>
<polygon points="520.60,752.70 521.41,754.88 523.74,754.98 521.92,756.43 522.54,758.67 520.60,757.39 518.66,758.67 519.28,756.43 517.46,754.98 519.79,754.88" fill="#000"/>
<polygon points="513.10,762.70 513.91,764.88 516.24,764.98 514.42,766.43 515.04,768.67 513.10,767.39 511.16,768.67 511.78,766.43 509.96,764.98 512.29,764.88" fill="#000"/>
<circle cx="553.55" cy="777.00" r="3.5" fill="#000"/>
<circle cx="559.55" cy="777.50" r="3.5" fill="#000"/>
<circle cx="556.55" cy="780.50" r="3.5" fill="#000"/>
<line x1="580.95" y1="770.00" x2="580.95" y2="774.50" stroke="#000" stroke-width="1.6" />
<line x1="576.75" y1="770.00" x2="585.15" y2="770.00" stroke="#000" stroke-width="1.6" />
<line x1="576.75" y1="774.50" x2="585.15" y2="774.50" stroke="#000" stroke-width="1.6" />
<polygon points="577.60,766.20 578.41,768.38 580.74,768.48 578.92,769.93 579.54,772.17 577.60,770.89 575.66,772.17 576.28,769.93 574.46,768.48 576.79,768.38" fill="#000"/>
<polygon points="582.60,768.70 583.41,770.88 585.74,770.98 583.92,772.43 584.54,774.67 582.60,773.39 580.66,774.67 581.28,772.43 579.46,770.98 581.79,770.88" fill="#000"/>
<polygon points="580.60,771.20 581.41,773.38 583.74,773.48 581.92,774.93 582.54,777.17 580.60,775.89 578.66,777.17 579.28,774.93 577.46,773.48 579.79,773.38" fill="#000"/>
<line x1="621.10" y1="725.00" x2="621.10" y2="734.00" stroke="#000" stroke-width="1.6" />
<line x1="616.90" y1="725.00" x2="625.30" y2="725.00" stroke="#000" stroke-width="1.6" />
<line x1="616.90" y1="734.00" x2="625.30" y2="734.00" stroke="#000" stroke-width="1.6" />
<circle cx="617.35" cy="723.50" r="3.5" fill="#000"/>
<circle cx="623.35" cy="730.50" r="3.5" fill="#000"/>
<circle cx="620.35" cy="733.50" r="3.5" fill="#000"/>
<line x1="645.25" y1="650.80" x2="645.25" y2="655.00" stroke="#000" stroke-width="1.6" />
<line x1="641.05" y1="650.80" x2="649.45" y2="650.80" stroke="#000" stroke-width="1.6" />
<line x1="641.05" y1="655.00" x2="649.45" y2="655.00" stroke="#000" stroke-width="1.6" />
<polygon points="642.10,647.20 642.91,649.38 645.24,649.48 643.42,650.93 644.04,653.17 642.10,651.89 640.16,653.17 640.78,650.93 638.96,649.48 641.29,649.38" fill="#000"/>
<polygon points="647.60,649.20 648.41,651.38 650.74,651.48 648.92,652.93 649.54,655.17 647.60,653.89 645.66,655.17 646.28,652.93 644.46,651.48 646.79,651.38" fill="#000"/>
<polygon points="645.10,651.70 645.91,653.88 648.24,653.98 646.42,655.43 647.04,657.67 645.10,656.39 643.16,657.67 643.78,655.43 641.96,653.98 644.29,653.88" fill="#000"/>
<line x1="450.50" y1="580.00" x2="645.00" y2="580.00" stroke="#000" stroke-width="1.7" />
<text x="543.00" y="578.80" font-size="14" font-weight="bold" text-anchor="middle" class="n">****</text>
<line x1="515.50" y1="601.30" x2="646.00" y2="601.30" stroke="#000" stroke-width="1.7" />
<text x="579.60" y="600.30" font-size="14" font-weight="bold" text-anchor="middle" class="n">****</text>
<line x1="578.30" y1="618.60" x2="645.50" y2="618.60" stroke="#000" stroke-width="1.7" />
<text x="610.40" y="617.70" font-size="14" font-weight="bold" text-anchor="middle" class="n">****</text>
<line x1="621.50" y1="638.00" x2="645.80" y2="638.00" stroke="#000" stroke-width="1.7" />
<text x="633.60" y="634.80" font-size="14" font-weight="bold" text-anchor="middle" class="n">****</text>
<line x1="450.50" y1="704.40" x2="515.00" y2="704.40" stroke="#000" stroke-width="1.7" />
<text x="485.70" y="702.20" font-size="14" font-weight="bold" text-anchor="middle" class="n">****</text>
<line x1="516.00" y1="738.80" x2="579.60" y2="738.80" stroke="#000" stroke-width="1.7" />
<text x="549.00" y="735.40" font-size="14" font-weight="bold" text-anchor="middle" class="n">*</text>
</svg></body></html>
